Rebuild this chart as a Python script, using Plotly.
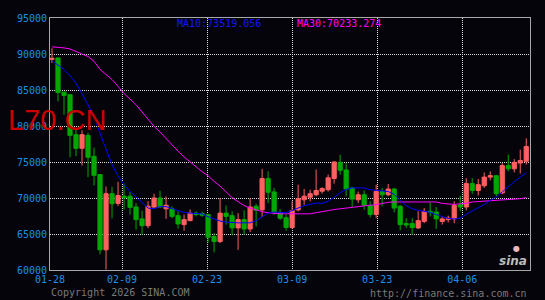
import pandas as pd
import plotly.graph_objects as go

# ---------------- data ----------------
start_date = "2026-01-28"
n_days = 80
dates = pd.date_range(start_date, periods=n_days, freq="D")

opens = [89250, 89450, 84700, 84350, 78800, 76900, 78700, 75800, 73250, 62800,
         70600, 69250, 70250, 70250, 68750, 67100, 66150, 68750, 70000, 68500,
         68500, 67550, 66300, 66850, 67900, 67850, 67700, 64650, 63950, 67900,
         67550, 65850, 67000, 65700, 68850, 68350, 72700, 70850, 68000, 67250,
         65900, 68350, 69750, 70100, 70450, 70950, 71150, 72700, 74950, 73900,
         71400, 69750, 70450, 68950, 67700, 70900, 70450, 71250, 68850, 66450,
         66450, 65850, 66750, 68150, 68050, 66750, 67000, 67100, 69050, 68750,
         72000, 71050, 71700, 72900, 73100, 70700, 74500, 74050, 74850, 75100]
highs = [90800, 89550, 84750, 84450, 79500, 79400, 79050, 77000, 73300, 71600,
         71550, 72250, 72000, 70850, 69300, 68250, 69550, 70600, 71000, 70200,
         68850, 68150, 67700, 68400, 68150, 68100, 67800, 65150, 70000, 68950,
         68150, 67900, 68300, 70000, 69200, 74050, 73700, 71400, 68450, 67700,
         69550, 71850, 71250, 71150, 73950, 71500, 73250, 75100, 76000, 74850,
         71550, 70900, 71050, 69550, 71850, 71400, 71950, 71400, 69050, 67200,
         67200, 68150, 68600, 69400, 68750, 67350, 67550, 69550, 70300, 72750,
         72750, 72650, 73550, 73700, 73150, 74850, 76000, 75400, 76700, 78300]
lows = [88750, 83400, 81550, 75650, 75800, 74500, 72900, 71750, 62200, 60050,
        67150, 68900, 68400, 67700, 65600, 64900, 65800, 68600, 68600, 67100,
        67200, 65750, 65450, 66800, 67450, 67400, 63800, 62450, 63750, 66300,
        64900, 62800, 64900, 65250, 66050, 67350, 69300, 67650, 66950, 65450,
        65700, 68150, 69050, 69550, 70250, 70600, 70900, 72000, 73250, 70250,
        68750, 69300, 68350, 67300, 67200, 68850, 70250, 68000, 65500, 65850,
        64900, 65700, 66500, 67450, 65700, 66300, 66600, 66500, 68150, 68300,
        70600, 70350, 71400, 72450, 70250, 70550, 73700, 73550, 73400, 74650]
closes = [89400, 84650, 84250, 78700, 76900, 78800, 75650, 73150, 62800, 70600,
          69200, 70350, 70050, 68700, 67000, 66150, 68850, 70000, 68750, 69000,
          67450, 66400, 67000, 67900, 67700, 67600, 64550, 63950, 67900, 67450,
          65850, 67000, 65700, 68750, 68300, 72700, 70800, 68000, 67200, 65900,
          68250, 69900, 70250, 70600, 71050, 71300, 72800, 75000, 73850, 71250,
          69850, 70450, 68950, 67700, 70900, 70450, 71250, 68600, 66300, 66250,
          65900, 66850, 68150, 68000, 67100, 67100, 67200, 68950, 68750, 72000,
          71050, 71850, 72900, 73100, 70600, 74500, 74050, 74950, 75200, 77150]

ma10 = [89050, 88500, 87850, 87000, 85950, 84450, 82950, 81200, 79000, 76800,
        74600, 73050, 71850, 70900, 70100, 69300, 68600, 68500, 68800, 68800,
        68550, 68250, 68000, 67900, 67850, 67800, 67400, 67050, 66800, 66650,
        66550, 66550, 66550, 66550, 66850, 67400, 67900, 68050, 68000, 67950,
        68250, 68600, 68950, 69100, 69300, 69250, 69550, 70100, 70750, 71200,
        71400, 71400, 71400, 71150, 71050, 70950, 70900, 70500, 69650, 68950,
        68500, 68300, 68200, 68000, 67700, 67450, 67150, 67100, 67200, 67750,
        68200, 68600, 69100, 69650, 70150, 70850, 71600, 72250, 72900, 73520]
ma30 = [91000, 90950, 90850, 90700, 90400, 90000, 89650, 89000, 87850, 87150,
        86450, 85500, 84500, 83750, 82950, 81950, 80900, 79950, 79150, 78250,
        77300, 76500, 75700, 75000, 74350, 73650, 73100, 72300, 71650, 70850,
        70050, 69500, 68950, 68600, 68300, 68100, 67950, 67850, 67800, 67800,
        67800, 67800, 67800, 67800, 67950, 68050, 68250, 68400, 68500, 68650,
        68750, 68900, 68950, 69000, 69070, 69250, 69400, 69450, 69450, 69450,
        69480, 69500, 69500, 69500, 69450, 69250, 69200, 69100, 69200, 69250,
        69450, 69500, 69600, 69620, 69650, 69700, 69800, 69850, 69900, 70050]

y_ticks = [60000, 65000, 70000, 75000, 80000, 85000, 90000, 95000]
x_tick_pos = ["2026-01-27 16:00", "2026-02-08 16:00", "2026-02-22 20:00",
              "2026-03-09 00:00", "2026-03-23 04:00", "2026-04-06 08:00"]
x_tick_text = ["01-28", "02-09", "02-23", "03-09", "03-23", "04-06"]

ma10_label = "MA10:73519.056"
ma30_label = "MA30:70233.274"
watermark = "L70.CN"
copyright_text = "Copyright 2026 SINA.COM"
url_text = "http://finance.sina.com.cn"

# ---------------- styles ----------------
BG = "#05040a"
UP = "#ff6060"
DOWN = "#00a800"
TICK = "#1e8fe6"
GRID = "#dcdcdc"
FRAME = "#a8a8a8"
MONO = "DejaVu Sans Mono"

fig = go.Figure()
fig.add_trace(go.Candlestick(
    x=dates, open=opens, high=highs, low=lows, close=closes,
    increasing=dict(line=dict(color=UP, width=1), fillcolor=UP),
    decreasing=dict(line=dict(color=DOWN, width=1), fillcolor=DOWN),
    whiskerwidth=0, hoverinfo="skip", showlegend=False,
))
fig.add_trace(go.Scatter(x=dates, y=ma30, mode="lines",
                         line=dict(color="#ff00ff", width=1), hoverinfo="skip",
                         showlegend=False))
fig.add_trace(go.Scatter(x=dates, y=ma10, mode="lines",
                         line=dict(color="#0000ff", width=1), hoverinfo="skip",
                         showlegend=False))

fig.update_layout(
    width=545, height=300,
    margin=dict(l=50, r=15, t=18, b=30, pad=0),
    paper_bgcolor=BG, plot_bgcolor=BG,
    boxgap=0.3, boxgroupgap=0,
    showlegend=False,
    font=dict(family=MONO, size=10, color=TICK),
    xaxis=dict(
        type="date",
        range=["2026-01-27 16:00", "2026-04-17 15:00"],
        rangeslider=dict(visible=False),
        tickmode="array", tickvals=x_tick_pos, ticktext=x_tick_text,
        showgrid=True, gridcolor=GRID, griddash="1px,1px", gridwidth=1,
        showline=True, linecolor=FRAME, linewidth=1, mirror=True,
        ticks="", tickfont=dict(family=MONO, size=10, color=TICK),
        zeroline=False, fixedrange=True,
    ),
    yaxis=dict(
        range=[60000, 95000],
        tickmode="array", tickvals=y_ticks, ticktext=[str(v) for v in y_ticks],
        showgrid=True, gridcolor=GRID, griddash="1px,1px", gridwidth=1,
        showline=True, linecolor=FRAME, linewidth=1, mirror=True,
        ticks="", tickfont=dict(family=MONO, size=10, color=TICK),
        zeroline=False, fixedrange=True,
    ),
)

# plot area in pixels: x 50..530, y 18..270
def px(x):
    return (x - 50) / 480.0

def py(y):
    return (270 - y) / 252.0

annos = [
    dict(text=ma10_label, x=px(175), y=py(23.5), xanchor="left", yanchor="middle",
         font=dict(family=MONO, size=10, color="#1414ff")),
    dict(text=ma30_label, x=px(295), y=py(23.5), xanchor="left", yanchor="middle",
         font=dict(family=MONO, size=10, color="#ff00ff")),
    dict(text=watermark, x=px(6), y=py(120), xanchor="left", yanchor="middle",
         font=dict(family="Liberation Sans", size=29, color="#cc0000")),
    dict(text=copyright_text, x=px(49), y=py(292.5), xanchor="left", yanchor="middle",
         font=dict(family=MONO, size=10, color="#7a7a7a")),
    dict(text=url_text, x=px(529), y=py(293), xanchor="right", yanchor="middle",
         font=dict(family=MONO, size=10, color="#7a7a7a")),
    dict(text="<b><i>sina</i></b>", x=px(513), y=py(261), xanchor="center", yanchor="middle",
         font=dict(family="DejaVu Sans", size=12, color="#bdbdbd")),
    dict(text="●", x=px(516), y=py(248), xanchor="center", yanchor="middle",
         font=dict(family="DejaVu Sans", size=8, color="#f0b8b8")),
]
for a in annos:
    a.update(xref="paper", yref="paper", showarrow=False)
fig.update_layout(annotations=annos)

fig.write_html("out.html")
